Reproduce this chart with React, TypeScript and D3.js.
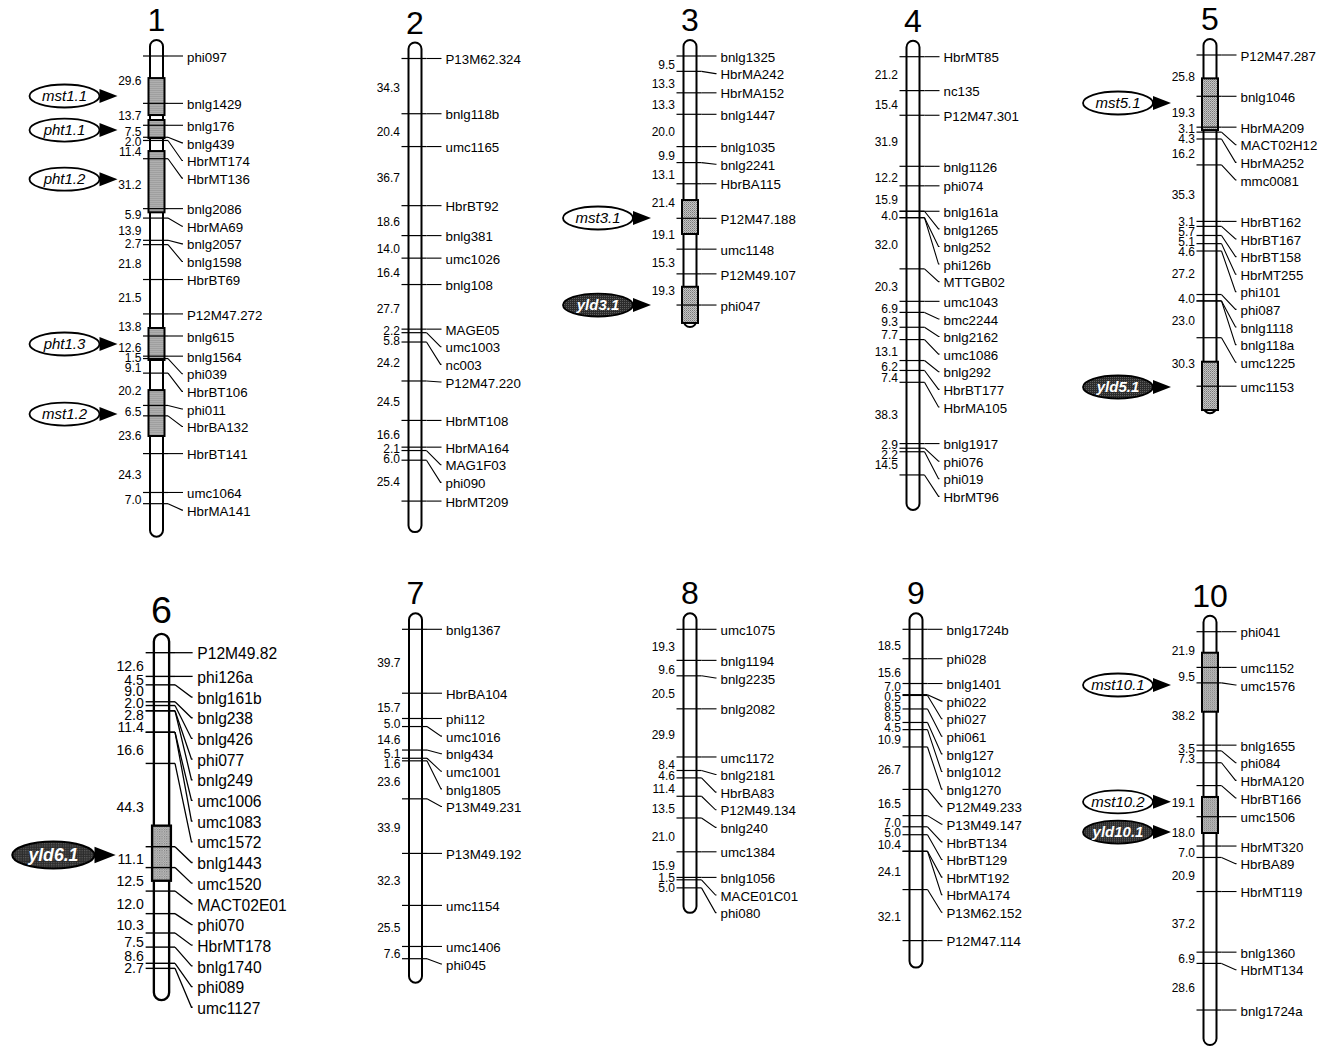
import { useEffect, useRef } from 'react';
import * as d3 from 'd3';

// chromosome numbers
const chromNames = ['1', '2', '3', '4', '5', '6', '7', '8', '9', '10'];

// markers (top to bottom) and distances between consecutive markers (cM)
const chr1Markers = ['phi097', 'bnlg1429', 'bnlg176', 'bnlg439', 'HbrMT174', 'HbrMT136', 'bnlg2086', 'HbrMA69', 'bnlg2057', 'bnlg1598', 'HbrBT69', 'P12M47.272', 'bnlg615', 'bnlg1564', 'phi039', 'HbrBT106', 'phi011', 'HbrBA132', 'HbrBT141', 'umc1064', 'HbrMA141'];
const chr1Gaps = [29.6, 13.7, 7.5, 2.0, 11.4, 31.2, 5.9, 13.9, 2.7, 21.8, 21.5, 13.8, 12.6, 1.5, 9.1, 20.2, 6.5, 23.6, 24.3, 7.0];

const chr2Markers = ['P13M62.324', 'bnlg118b', 'umc1165', 'HbrBT92', 'bnlg381', 'umc1026', 'bnlg108', 'MAGE05', 'umc1003', 'nc003', 'P12M47.220', 'HbrMT108', 'HbrMA164', 'MAG1F03', 'phi090', 'HbrMT209'];
const chr2Gaps = [34.3, 20.4, 36.7, 18.6, 14.0, 16.4, 27.7, 2.2, 5.8, 24.2, 24.5, 16.6, 2.1, 6.0, 25.4];

const chr3Markers = ['bnlg1325', 'HbrMA242', 'HbrMA152', 'bnlg1447', 'bnlg1035', 'bnlg2241', 'HbrBA115', 'P12M47.188', 'umc1148', 'P12M49.107', 'phi047'];
const chr3Gaps = [9.5, 13.3, 13.3, 20.0, 9.9, 13.1, 21.4, 19.1, 15.3, 19.3];

const chr4Markers = ['HbrMT85', 'nc135', 'P12M47.301', 'bnlg1126', 'phi074', 'bnlg161a', 'bnlg1265', 'bnlg252', 'phi126b', 'MTTGB02', 'umc1043', 'bmc2244', 'bnlg2162', 'umc1086', 'bnlg292', 'HbrBT177', 'HbrMA105', 'bnlg1917', 'phi076', 'phi019', 'HbrMT96'];
const chr4Gaps = [21.2, 15.4, 31.9, 12.2, 15.9, 0, 4.0, 0, 32.0, 20.3, 6.9, 9.3, 7.7, 13.1, 6.2, 7.4, 38.3, 2.9, 2.2, 14.5];

const chr5Markers = ['P12M47.287', 'bnlg1046', 'HbrMA209', 'MACT02H12', 'HbrMA252', 'mmc0081', 'HbrBT162', 'HbrBT167', 'HbrBT158', 'HbrMT255', 'phi101', 'phi087', 'bnlg1118', 'bnlg118a', 'umc1225', 'umc1153'];
const chr5Gaps = [25.8, 19.3, 3.1, 4.3, 16.2, 35.3, 3.1, 5.7, 5.1, 4.6, 27.2, 4.0, 0, 23.0, 30.3];

const chr6Markers = ['P12M49.82', 'phi126a', 'bnlg161b', 'bnlg238', 'bnlg426', 'phi077', 'bnlg249', 'umc1006', 'umc1083', 'umc1572', 'bnlg1443', 'umc1520', 'MACT02E01', 'phi070', 'HbrMT178', 'bnlg1740', 'phi089', 'umc1127'];
const chr6Gaps = [12.6, 4.5, 9.0, 2.0, 2.8, 0, 11.4, 0, 16.6, 44.3, 11.1, 12.5, 12.0, 10.3, 7.5, 8.6, 2.7];

const chr7Markers = ['bnlg1367', 'HbrBA104', 'phi112', 'umc1016', 'bnlg434', 'umc1001', 'bnlg1805', 'P13M49.231', 'P13M49.192', 'umc1154', 'umc1406', 'phi045'];
const chr7Gaps = [39.7, 15.7, 5.0, 14.6, 5.1, 1.6, 23.6, 33.9, 32.3, 25.5, 7.6];

const chr8Markers = ['umc1075', 'bnlg1194', 'bnlg2235', 'bnlg2082', 'umc1172', 'bnlg2181', 'HbrBA83', 'P12M49.134', 'bnlg240', 'umc1384', 'bnlg1056', 'MACE01C01', 'phi080'];
const chr8Gaps = [19.3, 9.6, 20.5, 29.9, 8.4, 4.6, 11.4, 13.5, 21.0, 15.9, 1.5, 5.0];

const chr9Markers = ['bnlg1724b', 'phi028', 'bnlg1401', 'phi022', 'phi027', 'phi061', 'bnlg127', 'bnlg1012', 'bnlg1270', 'P12M49.233', 'P13M49.147', 'HbrBT134', 'HbrBT129', 'HbrMT192', 'HbrMA174', 'P13M62.152', 'P12M47.114'];
const chr9Gaps = [18.5, 15.6, 7.0, 0.5, 8.5, 8.5, 4.5, 10.9, 26.7, 16.5, 7.0, 5.0, 10.4, 0, 24.1, 32.1];

const chr10Markers = ['phi041', 'umc1152', 'umc1576', 'bnlg1655', 'phi084', 'HbrMA120', 'HbrBT166', 'umc1506', 'HbrMT320', 'HbrBA89', 'HbrMT119', 'bnlg1360', 'HbrMT134', 'bnlg1724a'];
const chr10Gaps = [21.9, 9.5, 38.2, 3.5, 7.3, 14, 19.1, 18.0, 7.0, 20.9, 37.2, 6.9, 28.6];

// intervals drawn without a distance label (index into the gap list)
const unlabeledGaps = [[], [], [], [], [], [], [], [], [], [5]];

// QTL: name, chromosome index, interval (cM) and arrow position (cM)
const qtlNames = ['mst1.1', 'pht1.1', 'pht1.2', 'pht1.3', 'mst1.2', 'mst3.1', 'yld3.1', 'mst5.1', 'yld5.1', 'yld6.1', 'mst10.1', 'mst10.2', 'yld10.1'];
const qtlChrom = [0, 0, 0, 0, 0, 2, 2, 4, 4, 5, 9, 9, 9];
const qtlFrom = [13.8, 40, 59.4, 170, 208.8, 89.2, 142.9, 14.6, 191.7, 92, 12.9, 101.4, 101.4];
const qtlTo = [36.9, 51.3, 97.7, 190, 237.5, 110.2, 165.3, 46.9, 221.9, 121.3, 49.1, 123.5, 123.5];
const qtlPeak = [25, 46.3, 77, 180, 223.8, 100.3, 154.2, 30, 207.5, 107.6, 32.7, 104.4, 122.9];

const markerLists = [chr1Markers, chr2Markers, chr3Markers, chr4Markers, chr5Markers, chr6Markers, chr7Markers, chr8Markers, chr9Markers, chr10Markers];
const gapLists = [chr1Gaps, chr2Gaps, chr3Gaps, chr4Gaps, chr5Gaps, chr6Gaps, chr7Gaps, chr8Gaps, chr9Gaps, chr10Gaps];

// layout of each chromosome drawing
const colX = [156.5, 415, 690, 913, 1210, 161.5, 415.5, 690, 916, 1210];
const firstY = [56, 58.5, 56, 56.7, 55, 652.7, 629.3, 629.3, 629.3, 631.7];
const pxPerCM = [1.6, 1.61, 1.615, 1.6, 1.6, 1.6, 1.61, 1.61, 1.59, 1.63];
const zoomF = [1, 1, 1, 1, 1, 1.175, 1, 1, 1, 1];
const tailPx = [33, 31, 22, 35, 27, 27, 24, 25, 27, 35];

const FONT = 'Arial, "Liberation Sans", Helvetica, sans-serif';

// push labels down so they keep a minimum spacing
function pushDown(ys: number[], gap: number) {
    const out: number[] = [];
    ys.forEach((v, i) => out.push(i ? Math.max(v, out[i - 1] + gap) : v));
    return out;
}

// least squares placement with a minimum spacing (pool adjacent violators)
function spread(ys: number[], gap: number) {
    const blocks: { sum: number; n: number; start: number }[] = [];
    ys.forEach((v, i) => {
        let b = { sum: v - i * gap, n: 1, start: i };
        while (blocks.length && blocks[blocks.length - 1].sum / blocks[blocks.length - 1].n > b.sum / b.n) {
            const p = blocks.pop()!;
            b = { sum: p.sum + b.sum, n: p.n + b.n, start: p.start };
        }
        blocks.push(b);
    });
    const out: number[] = [];
    blocks.forEach((b) => {
        for (let k = 0; k < b.n; k++) out.push(b.sum / b.n + (b.start + k) * gap);
    });
    return out;
}

export default function App() {
    const svgRef = useRef<SVGSVGElement>(null);

    useEffect(() => {
        const width = 1329;
        const height = 1048;
        const svg = d3.select(svgRef.current);
        svg.selectAll('*').remove();
        svg.attr('width', width).attr('height', height).attr('viewBox', `0 0 ${width} ${height}`);

        svg.append('rect').attr('width', width).attr('height', height).attr('fill', '#fff');

        // stippled fills
        const defs = svg.append('defs');
        const light = defs.append('pattern').attr('id', 'stipple').attr('width', 2).attr('height', 2).attr('patternUnits', 'userSpaceOnUse');
        light.append('rect').attr('width', 2).attr('height', 2).attr('fill', '#c4c4c4');
        light.append('rect').attr('width', 1).attr('height', 1).attr('fill', '#7a7a7a');
        light.append('rect').attr('x', 1).attr('y', 1).attr('width', 1).attr('height', 1).attr('fill', '#9a9a9a');
        const dark = defs.append('pattern').attr('id', 'darkStipple').attr('width', 2).attr('height', 2).attr('patternUnits', 'userSpaceOnUse');
        dark.append('rect').attr('width', 2).attr('height', 2).attr('fill', '#2c2c2c');
        dark.append('rect').attr('width', 1).attr('height', 1).attr('fill', '#5e5e5e');

        const halfW = 6.5;
        const boxHalfW = 8;

        chromNames.forEach((name, ci) => {
            const markers = markerLists[ci];
            const gaps = gapLists[ci];
            const pos = [0];
            gaps.forEach((gp) => pos.push(pos[pos.length - 1] + gp));
            const total = pos[pos.length - 1];

            const y = d3.scaleLinear().domain([0, total]).range([0, total * pxPerCM[ci]]);

            const g = svg
                .append('g')
                .attr('transform', `translate(${colX[ci]},${firstY[ci]}) scale(${zoomF[ci]})`)
                .style('font-family', FONT);

            // title
            g.append('text')
                .attr('x', 0)
                .attr('y', -25)
                .attr('text-anchor', 'middle')
                .style('font-size', '32px')
                .text(name);

            // chromosome bar
            g.append('rect')
                .attr('x', -halfW)
                .attr('y', -16)
                .attr('width', halfW * 2)
                .attr('height', y(total) + tailPx[ci] + 16)
                .attr('rx', halfW)
                .attr('fill', '#fff')
                .attr('stroke', '#000')
                .attr('stroke-width', 2);

            // QTL boxes
            qtlNames.forEach((q, qi) => {
                if (qtlChrom[qi] !== ci) return;
                g.append('rect')
                    .attr('x', -boxHalfW)
                    .attr('y', y(qtlFrom[qi]))
                    .attr('width', boxHalfW * 2)
                    .attr('height', y(qtlTo[qi]) - y(qtlFrom[qi]))
                    .attr('fill', 'url(#stipple)')
                    .attr('stroke', '#000')
                    .attr('stroke-width', 2);
            });

            // marker ticks, leaders and labels
            const tickY = pos.map((p) => y(p));
            const labelY = pushDown(tickY, 17.6);
            markers.forEach((m, i) => {
                g.append('line')
                    .attr('x1', -halfW - 7)
                    .attr('x2', halfW + 5)
                    .attr('y1', tickY[i])
                    .attr('y2', tickY[i])
                    .attr('stroke', '#000')
                    .attr('stroke-width', 1.2);
                g.append('path')
                    .attr('d', `M${halfW + 5},${tickY[i]}L${halfW + 19},${labelY[i]}H${halfW + 20}`)
                    .attr('fill', 'none')
                    .attr('stroke', '#000')
                    .attr('stroke-width', 1.1);
                g.append('text')
                    .attr('x', halfW + 24)
                    .attr('y', labelY[i] + 1)
                    .attr('dy', '0.35em')
                    .style('font-size', '13.3px')
                    .text(m);
            });

            // distance labels at interval midpoints
            const hidden = unlabeledGaps[ci];
            const shown = gaps
                .map((gp, i) => ({ gp, i, mid: (tickY[i] + tickY[i + 1]) / 2 }))
                .filter((d) => d.gp > 0 && !hidden.includes(d.i));
            const distY = spread(shown.map((d) => d.mid), 10);
            shown.forEach((d, k) => {
                g.append('text')
                    .attr('x', -halfW - 8.5)
                    .attr('y', distY[k] + 1.5)
                    .attr('dy', '0.35em')
                    .attr('text-anchor', 'end')
                    .style('font-size', '12px')
                    .text(d.gp.toFixed(1));
            });

            // QTL arrows and name ovals
            qtlNames.forEach((q, qi) => {
                if (qtlChrom[qi] !== ci) return;
                const py = y(qtlPeak[qi]);
                const isYield = q.startsWith('yld');
                const tip = -39;
                g.append('path')
                    .attr('d', `M${tip},${py}L${tip - 18},${py - 7}L${tip - 18},${py + 7}Z`)
                    .attr('fill', '#000');
                g.append('ellipse')
                    .attr('cx', tip - 53)
                    .attr('cy', py)
                    .attr('rx', 35)
                    .attr('ry', 11.5)
                    .attr('fill', isYield ? 'url(#darkStipple)' : '#fff')
                    .attr('stroke', '#000')
                    .attr('stroke-width', 1.8);
                g.append('text')
                    .attr('x', tip - 53)
                    .attr('y', py)
                    .attr('dy', '0.35em')
                    .attr('text-anchor', 'middle')
                    .style('font-size', '15px')
                    .style('font-style', 'italic')
                    .style('font-weight', isYield ? 'bold' : 'normal')
                    .attr('fill', isYield ? '#fff' : '#000')
                    .text(q);
            });
        });
    }, []);

    return <svg ref={svgRef} style={{ position: 'absolute', left: 0, top: 0 }}></svg>;
}
